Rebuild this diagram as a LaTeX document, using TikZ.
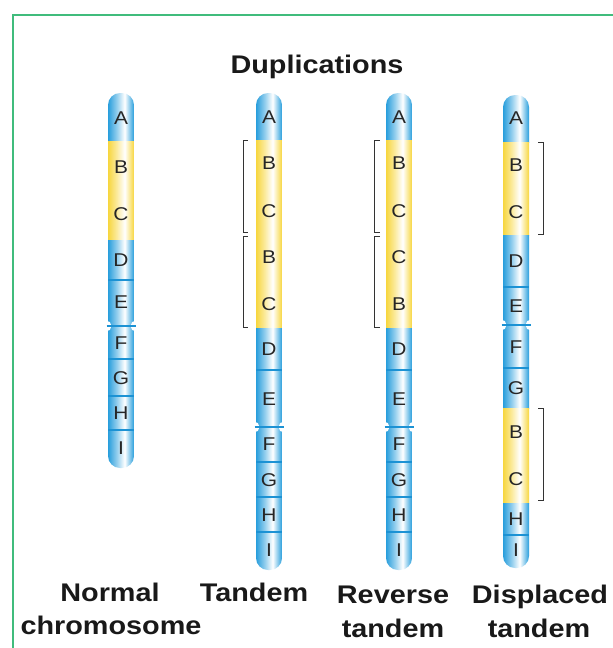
\documentclass[tikz,border=0pt]{standalone}
\usepackage{fontspec}
\setmainfont{Liberation Sans}[FakeStretch=1.13]
\usepackage{xcolor}
\definecolor{dupBlue}{RGB}{40,158,220}
\definecolor{dupYellow}{RGB}{247,214,62}
\definecolor{dupRule}{RGB}{28,146,212}
\definecolor{dupFrame}{RGB}{64,188,124}
\pgfdeclarehorizontalshading{dupblueshade}{100bp}{color(0bp)=(dupBlue); color(25bp)=(dupBlue); color(42bp)=(dupBlue!50!white); color(57bp)=(white); color(66bp)=(dupBlue!50!white); color(75bp)=(dupBlue); color(100bp)=(dupBlue)}
\pgfdeclarehorizontalshading{dupyellowshade}{100bp}{color(0bp)=(dupYellow); color(25bp)=(dupYellow); color(42bp)=(dupYellow!50!white); color(57bp)=(white); color(66bp)=(dupYellow!50!white); color(75bp)=(dupYellow); color(100bp)=(dupYellow)}
% #1 centre x, #2 top, #3 bottom
\newcommand{\dupBody}[3]{\clip[rounded corners=12] (#1-13,#2) rectangle (#1+13,#3);}
\newcommand{\dupBand}[4]{\shade[shading=#4] (#1-13,#2) rectangle (#1+13,#3);}
\newcommand{\dupRuleAt}[2]{\draw[dupRule, line width=1.6pt] (#1-13,#2) -- (#1+13,#2);}
\newcommand{\dupCentromere}[2]{\fill[white] (#1-15,#2) circle[radius=5.5];\fill[white] (#1+15,#2) circle[radius=5.5];\draw[dupRule, line width=1.8pt] (#1-14.5,#2) -- (#1+14.5,#2);}
% #1 x of the upright, #2 tick end x, #3 top, #4 bottom
\newcommand{\dupBracket}[4]{\draw[black!80, line width=0.9pt] (#2,#3) -- (#1,#3) -- (#1,#4) -- (#2,#4);}

\begin{document}
\begin{tikzpicture}[x=1pt,y=-1pt,
  gene/.style={font=\fontsize{18.5}{20}\selectfont, inner sep=0pt, text=black!85},
  caption/.style={font=\fontsize{25.5}{30}\selectfont\bfseries, inner sep=0pt, anchor=base, text=black!90}]
\useasboundingbox (0,0) rectangle (613,648);
\draw[dupFrame, line width=1.5pt] (13,650) -- (13,15) -- (615,15);
\node[caption] (title) at (317,73) {Duplications};

% normal chromosome
\begin{scope}
\dupBody{121}{93}{468}
\dupBand{121}{93}{141}{dupblueshade}
\dupBand{121}{141}{240}{dupyellowshade}
\dupBand{121}{240}{468}{dupblueshade}
\end{scope}
\dupRuleAt{121}{280}
\dupRuleAt{121}{359}
\dupRuleAt{121}{396}
\dupRuleAt{121}{430}
\dupCentromere{121}{326}
\node[gene] (nA) at (121,118) {A};
\node[gene] (nB) at (121,167) {B};
\node[gene] (nC) at (121,214) {C};
\node[gene] (nD) at (121,260) {D};
\node[gene] (nE) at (121,302) {E};
\node[gene] (nF) at (121,343) {F};
\node[gene] (nG) at (121,378) {G};
\node[gene] (nH) at (121,413) {H};
\node[gene] (nI) at (121,448) {I};

% tandem
\begin{scope}
\dupBody{269}{93}{570}
\dupBand{269}{93}{140}{dupblueshade}
\dupBand{269}{140}{328}{dupyellowshade}
\dupBand{269}{328}{570}{dupblueshade}
\end{scope}
\dupRuleAt{269}{370}
\dupRuleAt{269}{462}
\dupRuleAt{269}{497}
\dupRuleAt{269}{532}
\dupCentromere{269}{427}
\node[gene] (tA) at (269,117) {A};
\node[gene] (tB1) at (269,163) {B};
\node[gene] (tC1) at (269,211) {C};
\node[gene] (tB2) at (269,257) {B};
\node[gene] (tC2) at (269,304) {C};
\node[gene] (tD) at (269,349) {D};
\node[gene] (tE) at (269,399) {E};
\node[gene] (tF) at (269,444) {F};
\node[gene] (tG) at (269,480) {G};
\node[gene] (tH) at (269,515) {H};
\node[gene] (tI) at (269,550) {I};
\dupBracket{243}{248}{140}{232}
\dupBracket{243}{248}{236}{327}

% reverse tandem
\begin{scope}
\dupBody{399}{93}{570}
\dupBand{399}{93}{140}{dupblueshade}
\dupBand{399}{140}{328}{dupyellowshade}
\dupBand{399}{328}{570}{dupblueshade}
\end{scope}
\dupRuleAt{399}{370}
\dupRuleAt{399}{462}
\dupRuleAt{399}{497}
\dupRuleAt{399}{532}
\dupCentromere{399}{427}
\node[gene] (rA) at (399,117) {A};
\node[gene] (rB1) at (399,163) {B};
\node[gene] (rC1) at (399,211) {C};
\node[gene] (rC2) at (399,257) {C};
\node[gene] (rB2) at (399,304) {B};
\node[gene] (rD) at (399,349) {D};
\node[gene] (rE) at (399,399) {E};
\node[gene] (rF) at (399,444) {F};
\node[gene] (rG) at (399,480) {G};
\node[gene] (rH) at (399,515) {H};
\node[gene] (rI) at (399,550) {I};
\dupBracket{374}{380}{140}{232}
\dupBracket{374}{380}{236}{327}

% displaced tandem
\begin{scope}
\dupBody{516}{95}{568}
\dupBand{516}{95}{142}{dupblueshade}
\dupBand{516}{142}{235}{dupyellowshade}
\dupBand{516}{235}{408}{dupblueshade}
\dupBand{516}{408}{503}{dupyellowshade}
\dupBand{516}{503}{568}{dupblueshade}
\end{scope}
\dupRuleAt{516}{287}
\dupRuleAt{516}{368}
\dupRuleAt{516}{535}
\dupCentromere{516}{325}
\node[gene] (dA) at (516,118) {A};
\node[gene] (dB1) at (516,165) {B};
\node[gene] (dC1) at (516,212) {C};
\node[gene] (dD) at (516,261) {D};
\node[gene] (dE) at (516,306) {E};
\node[gene] (dF) at (516,347) {F};
\node[gene] (dG) at (516,388) {G};
\node[gene] (dB2) at (516,432) {B};
\node[gene] (dC2) at (516,479) {C};
\node[gene] (dH) at (516,519) {H};
\node[gene] (dI) at (516,550) {I};
\dupBracket{543}{538}{142}{234}
\dupBracket{543}{538}{408}{500}

% captions
\node[caption] (capN1) at (110,601) {Normal};
\node[caption] (capN2) at (111,634) {chromosome};
\node[caption] (capT) at (254,601) {Tandem};
\node[caption] (capR1) at (393,603) {Reverse};
\node[caption] (capR2) at (393,637) {tandem};
\node[caption] (capD1) at (540,603) {Displaced};
\node[caption] (capD2) at (539,637) {tandem};
\end{tikzpicture}
\end{document}
